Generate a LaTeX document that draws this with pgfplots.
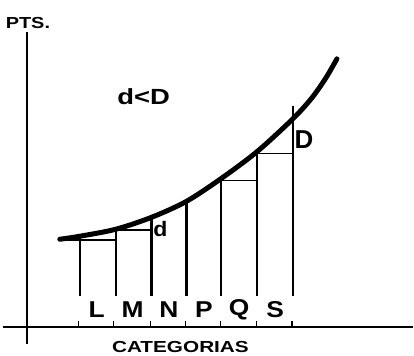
\documentclass[border=0pt]{standalone}
\usepackage{fontspec}
\setmainfont{Liberation Sans}
\usepackage{pgfplots}
\pgfplotsset{compat=1.18}
\begin{document}
\begin{tikzpicture}
\begin{axis}[hide axis, scale only axis, width=414pt, height=357pt,
  xmin=0, xmax=414, ymin=0, ymax=357, clip=false]
\addplot[draw=none] coordinates {(0,0) (414,357)};
% axes
\addplot[black, line width=2.6pt] coordinates {(3,29) (414,29)};
\addplot[black, line width=2.6pt] coordinates {(27,12) (27,325)};
% ticks on x axis
\addplot[black, line width=1.3pt, unbounded coords=jump] coordinates {
 (79,29) (79,35) (79,nan)
 (114,29) (114,35) (114,nan)
 (151,29) (151,35) (151,nan)
 (186,29) (186,35) (186,nan)
 (221,29) (221,35) (221,nan)
 (257,29) (257,35) (257,nan)
 (293,29) (293,35)};
% vertical category boundaries
\addplot[black, line width=2.2pt, unbounded coords=jump] coordinates {
 (80,60) (80,121) (80,nan)
 (116,60) (116,127) (116,nan)
 (152,60) (152,139) (152,nan)
 (187,60) (187,155) (187,nan)
 (222,60) (222,178) (222,nan)
 (258,60) (258,205) (258,nan)
 (294,60) (294,251)};
% steps
\addplot[black, line width=1.8pt, unbounded coords=jump] coordinates {
 (60,116) (116,116) (116,nan)
 (116,126) (152,126) (152,nan)
 (222,176) (258,176) (258,nan)
 (258,203) (294,203)};
% curve
\addplot[black, line width=5pt, smooth, line cap=round] coordinates {
 (60,117) (80,120) (116,127) (152,139) (187,155) (222,178) (258,205)
 (294,238) (313,259) (327,279) (338,298)};
% texts
\node[font=\bfseries\fontsize{16}{16}\selectfont, xscale=1.25] at (axis cs:28,334) {PTS.};
\node[font=\bfseries\fontsize{22}{22}\selectfont, xscale=1.25] at (axis cs:144,260) {d<D};
\node[font=\bfseries\fontsize{21}{21}\selectfont, xscale=1.1] at (axis cs:161,127) {d};
\node[font=\bfseries\fontsize{26}{26}\selectfont] at (axis cs:305,217) {D};
\node[font=\bfseries\fontsize{23}{23}\selectfont, xscale=1.15] at (axis cs:97,46) {L};
\node[font=\bfseries\fontsize{23}{23}\selectfont, xscale=1.15] at (axis cs:133,46) {M};
\node[font=\bfseries\fontsize{23}{23}\selectfont, xscale=1.15] at (axis cs:169.5,46) {N};
\node[font=\bfseries\fontsize{23}{23}\selectfont, xscale=1.15] at (axis cs:204.5,46) {P};
\node[font=\bfseries\fontsize{23}{23}\selectfont, xscale=1.15] at (axis cs:240,46) {Q};
\node[font=\bfseries\fontsize{23}{23}\selectfont, xscale=1.15] at (axis cs:276,46) {S};
\node[font=\bfseries\fontsize{16}{16}\selectfont, xscale=1.3] at (axis cs:181,9) {CATEGORIAS};
\end{axis}
\end{tikzpicture}
\end{document}
